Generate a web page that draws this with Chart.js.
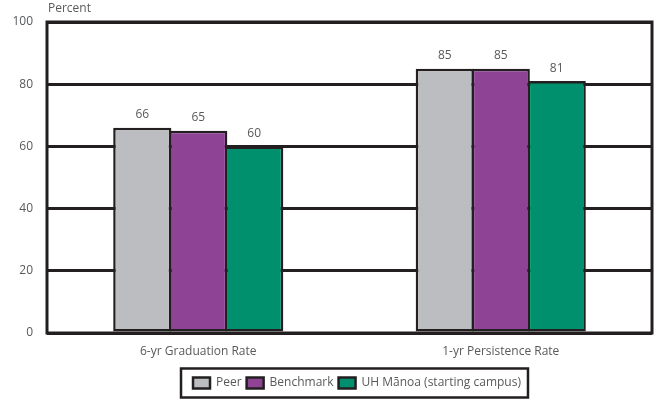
<!DOCTYPE html>
<html>
<head>
<meta charset="utf-8">
<script src="https://cdn.jsdelivr.net/npm/chart.js@4/dist/chart.umd.min.js"></script>
<style>
  html, body { margin: 0; padding: 0; background: #fff; }
  #wrap { width: 654px; height: 402px; }
</style>
</head>
<body>
<div id="wrap"><canvas id="rates_chart"></canvas></div>
<script>
// categories and series
const categories = ['6-yr Graduation Rate', '1-yr Persistence Rate'];
const peer = [66, 85];
const benchmark = [65, 85];
const manoa = [60, 81];
const yTicks = [0, 20, 40, 60, 80, 100];

const ink = '#231f20';
const textGray = '#58595b';
const fontFamily = '"Open Sans", "Noto Sans", sans-serif';
const legendShift = 31;

const colors = {
    peer: '#bcbdc0',
    benchmark: '#8f4395',
    manoa: '#00906d',
};

// value labels above bars, frame around plot, "Percent" title and legend box
const extras = {
    id: 'extras',
    afterLayout(chart) {
        // legend sits a little right of centre
        chart.legend.left += legendShift;
        chart.legend.right += legendShift;
    },
    afterDatasetsDraw(chart) {
        const ctx = chart.ctx;
        ctx.save();
        ctx.font = '12px ' + fontFamily;
        ctx.fillStyle = textGray;
        ctx.textAlign = 'center';
        ctx.textBaseline = 'bottom';
        chart.data.datasets.forEach(function (ds, i) {
            chart.getDatasetMeta(i).data.forEach(function (bar, j) {
                ctx.fillText(ds.data[j], bar.x, bar.y - 7);
            });
        });
        ctx.restore();
    },
    afterDraw(chart) {
        const ctx = chart.ctx;
        const a = chart.chartArea;
        ctx.save();
        ctx.strokeStyle = ink;
        ctx.lineWidth = 3;
        ctx.strokeRect(a.left, a.top, a.right - a.left, a.bottom - a.top);

        ctx.font = '12px ' + fontFamily;
        ctx.fillStyle = textGray;
        ctx.textAlign = 'left';
        ctx.textBaseline = 'middle';
        ctx.fillText('Percent', a.left + 1, 9);

        // box around the legend items only
        const boxes = chart.legend.legendHitBoxes;
        if (boxes && boxes.length) {
            let l = Infinity, r = -Infinity, cy = 0;
            boxes.forEach(function (b) {
                l = Math.min(l, b.left);
                r = Math.max(r, b.left + b.width);
                cy += b.top + b.height / 2;
            });
            cy /= boxes.length;
            ctx.lineWidth = 2.5;
            ctx.strokeRect(l - 12, cy - 14.5, r - l + 19, 29);
        }
        ctx.restore();
    }
};

const options = {
    responsive: true,
    maintainAspectRatio: false,
    animation: false,
    layout: {
        padding: { top: 22, right: 2, left: 0, bottom: 3 },
    },
    datasets: {
        bar: {
            categoryPercentage: 0.555,
            barPercentage: 1.04,
            borderWidth: 2.5,
            borderColor: ink,
            borderSkipped: false,
        },
    },
    plugins: {
        legend: {
            display: true,
            position: 'bottom',
            labels: {
                boxWidth: 17,
                boxHeight: 11,
                padding: 5,
                color: textGray,
                font: { family: fontFamily, size: 12 },
            },
        },
        tooltip: { enabled: false },
    },
    scales: {
        x: {
            grid: { display: false, drawTicks: false },
            border: { display: false },
            ticks: {
                color: textGray,
                padding: 11,
                font: { family: fontFamily, size: 12 },
            },
            afterFit: function (scale) { scale.height = 39; },
        },
        y: {
            min: 0,
            max: 100,
            afterBuildTicks: function (scale) {
                scale.ticks = yTicks.map(function (v) { return { value: v }; });
            },
            grid: { color: ink, lineWidth: 3, drawTicks: false },
            border: { display: false },
            ticks: {
                color: textGray,
                padding: 14,
                font: { family: fontFamily, size: 12 },
            },
            afterFit: function (scale) { scale.width = 47; },
        },
    },
};

new Chart(document.getElementById('rates_chart'), {
    type: 'bar',
    data: {
        labels: categories,
        datasets: [
            { label: 'Peer', data: peer, backgroundColor: colors.peer },
            { label: 'Benchmark', data: benchmark, backgroundColor: colors.benchmark },
            { label: 'UH Mānoa (starting campus)', data: manoa, backgroundColor: colors.manoa },
        ],
    },
    options: options,
    plugins: [extras],
});
</script>
</body>
</html>
